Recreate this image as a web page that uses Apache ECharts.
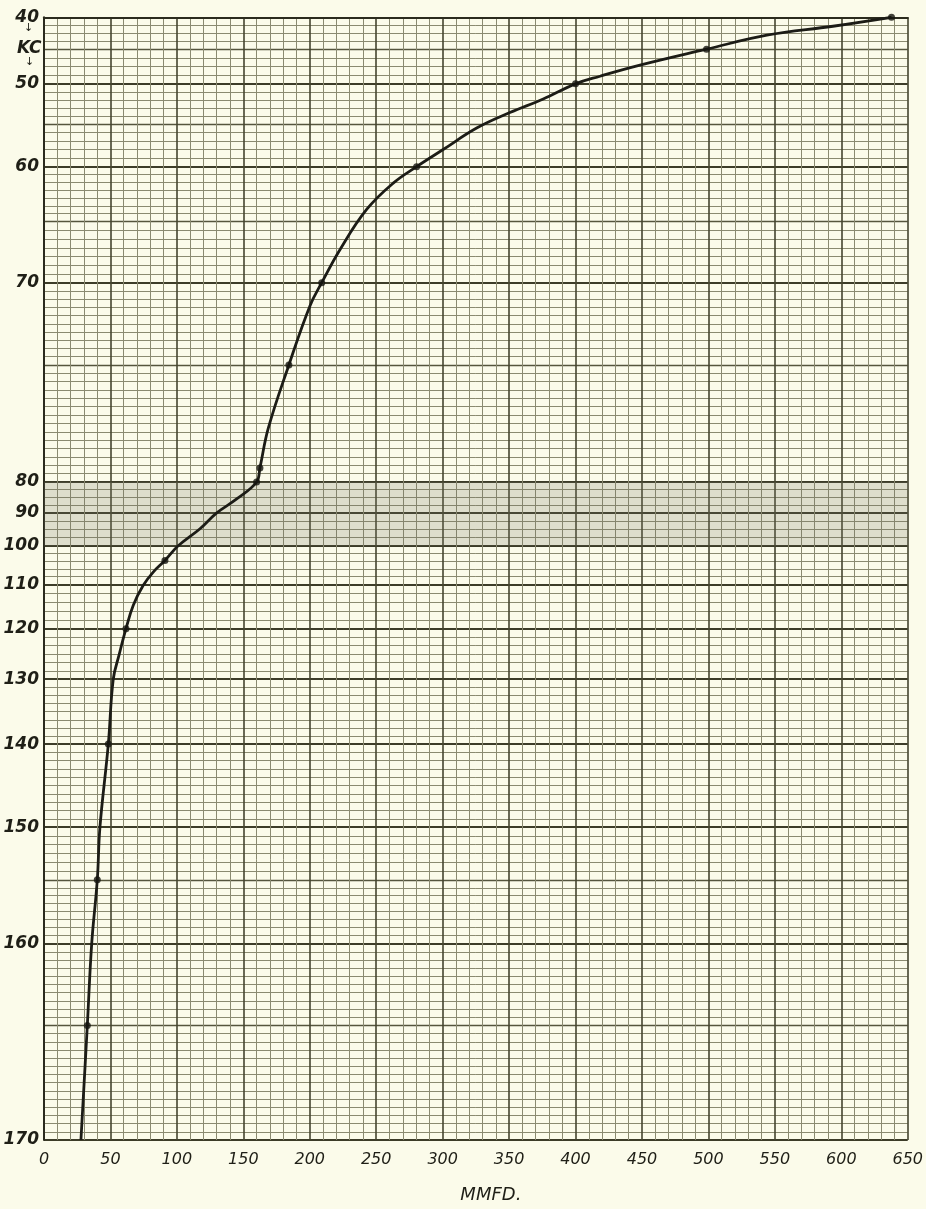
<!DOCTYPE html>
<html>
<head>
<meta charset="utf-8">
<script src="https://cdn.jsdelivr.net/npm/echarts@6/dist/echarts.min.js"></script>
<style>
html,body{margin:0;padding:0;background:#fbfbea;}
#c{width:926px;height:1209px;}
</style>
</head>
<body>
<div id="c"></div>
<script>
// ---- axis definitions (hand-drawn nonlinear KC scale of the paper) ----
const kcTicks  = [40, 45, 50, 55, 60, 65, 70, 75, 80, 90, 100, 110, 120, 130, 140, 150, 155, 160, 165, 170];
const kcPaper  = [0, 32, 66.7, 106.7, 149.7, 204.7, 266, 348.4, 465.7, 496.7, 529.7, 568.4, 612.7, 663.4, 728.4, 811.7, 864.4, 928.4, 1010.4, 1125.2];
const kcLabelValues = [40, 50, 60, 70, 80, 90, 100, 110, 120, 130, 140, 150, 160, 170];
const kcMidLines = [45, 55, 65, 75, 155, 165];
const mmfdLabels = [0, 50, 100, 150, 200, 250, 300, 350, 400, 450, 500, 550, 600, 650];

// ---- curve (MMFD, KC) ----
const curveMmfd = [27.8, 32.6, 35.9, 40.1, 42.1, 48.4, 52.1, 56.4, 61.7, 67.2, 74.7, 82.2, 91, 101, 117.4, 130, 145, 160, 162.5, 168.8, 184.3, 200.2, 209, 222.7, 242.8, 262.8, 280.4, 300.4, 325.6, 350.6, 375.7, 400, 418.4, 448.5, 498.6, 544, 593.7, 637.8];
const curveKc   = [170, 165, 160, 155, 150, 140, 130, 125.3, 120, 114.7, 110.2, 106.8, 103.8, 100, 94.8, 90, 85.5, 80, 79.4, 77.7, 75, 71.4, 70, 67.3, 63.9, 61.5, 60, 58.0, 55.5, 53.6, 51.9, 50, 48.9, 47.3, 45, 42.8, 41.4, 40];

// ---- plotted measurement dots ----
const pointMmfd = [32.6, 40.1, 48.4, 61.7, 91, 160, 162.5, 184.3, 209, 280.4, 400, 498.6, 637.8];
const pointKc   = [165, 155, 140, 120, 103.8, 80, 79.4, 75, 70, 60, 50, 45, 40];

function toPaper(k) {
  for (let i = 0; i < kcTicks.length - 1; i++) {
    if (k >= kcTicks[i] && k <= kcTicks[i + 1]) {
      const t = (k - kcTicks[i]) / (kcTicks[i + 1] - kcTicks[i]);
      return kcPaper[i] + t * (kcPaper[i + 1] - kcPaper[i]);
    }
  }
  return k < kcTicks[0] ? kcPaper[0] : kcPaper[kcPaper.length - 1];
}

// minor ruling of the paper between the heavy lines
const minorLines = [];
for (let i = 0; i < kcPaper.length - 1; i++) {
  const len = kcPaper[i + 1] - kcPaper[i];
  const n = Math.max(1, Math.round(len / 8.2));
  for (let j = 1; j < n; j++) minorLines.push(kcPaper[i] + j * len / n);
}

const yMax = kcPaper[kcPaper.length - 1];
const labelPos = kcLabelValues.map(toPaper);
const font = 'DejaVu Sans';
const ink = '#1f1f17';

function yAxisBase(extra) {
  return Object.assign({
    type: 'value', inverse: true, min: 0, max: yMax, position: 'left',
    axisLine: { show: false }, axisTick: { show: false }, axisLabel: { show: false }
  }, extra);
}

const chart = echarts.init(document.getElementById('c'));
chart.setOption({
  backgroundColor: '#fbfbea',
  animation: false,
  grid: { left: 44, right: 18, top: 17.3, bottom: 66.5, containLabel: false },
  xAxis: {
    type: 'value', min: 0, max: 650, interval: 50,
    axisLine: { show: true, lineStyle: { color: '#2b2b1e', width: 2 } },
    axisTick: { show: false },
    axisLabel: {
      margin: 12, fontFamily: font, fontStyle: 'italic', fontSize: 16, color: ink,
      formatter: v => mmfdLabels.indexOf(v) >= 0 ? String(v) : ''
    },
    splitLine: { show: true, lineStyle: { color: '#45452f', width: 1.6 } },
    minorTick: { show: false, splitNumber: 5 },
    minorSplitLine: { show: true, lineStyle: { color: '#8a8a70', width: 1 } },
    name: 'MMFD.', nameLocation: 'middle', nameGap: 46,
    nameTextStyle: { fontFamily: font, fontStyle: 'italic', fontSize: 18, color: ink, padding: [0, 0, 0, 30] }
  },
  yAxis: [
    yAxisBase({
      axisTick: { show: false, customValues: minorLines },
      splitLine: { show: true, lineStyle: { color: '#8a8a70', width: 1 } }
    }),
    yAxisBase({
      axisTick: { show: false, customValues: kcMidLines.map(toPaper) },
      splitLine: { show: true, lineStyle: { color: '#55553d', width: 1.4 } }
    }),
    yAxisBase({
      axisLine: { show: true, lineStyle: { color: '#2b2b1e', width: 2 } },
      axisTick: { show: false, customValues: labelPos },
      axisLabel: {
        show: true, customValues: labelPos, margin: 5,
        fontFamily: font, fontStyle: 'italic', fontWeight: 'bold', fontSize: 17, color: ink,
        formatter: v => {
          let best = 0;
          for (let j = 1; j < labelPos.length; j++) {
            if (Math.abs(labelPos[j] - v) < Math.abs(labelPos[best] - v)) best = j;
          }
          return String(kcLabelValues[best]);
        }
      },
      splitLine: { show: true, lineStyle: { color: '#3c3c28', width: 1.8 } }
    })
  ],
  graphic: [
    { type: 'text', left: 17, top: 40, style: { text: 'KC', font: 'italic bold 17px "DejaVu Sans"', fill: ink } },
    { type: 'text', left: 24, top: 23, style: { text: '↓', font: '11px "DejaVu Sans"', fill: ink } },
    { type: 'text', left: 25, top: 57, style: { text: '↓', font: '11px "DejaVu Sans"', fill: ink } }
  ],
  series: [
    {
      type: 'line', yAxisIndex: 2, smooth: 0.4, showSymbol: false,
      data: curveMmfd.map((m, i) => [m, toPaper(curveKc[i])]),
      lineStyle: { color: '#1c1c16', width: 2.8 },
      markArea: {
        silent: true,
        itemStyle: { color: 'rgba(120,120,100,0.22)' },
        data: [[{ yAxis: toPaper(80) }, { yAxis: toPaper(100) }]]
      },
      z: 3
    },
    {
      type: 'scatter', yAxisIndex: 2, symbolSize: 7,
      data: pointMmfd.map((m, i) => [m, toPaper(pointKc[i])]),
      itemStyle: { color: '#15150f' },
      z: 4
    }
  ]
});
</script>
</body>
</html>
